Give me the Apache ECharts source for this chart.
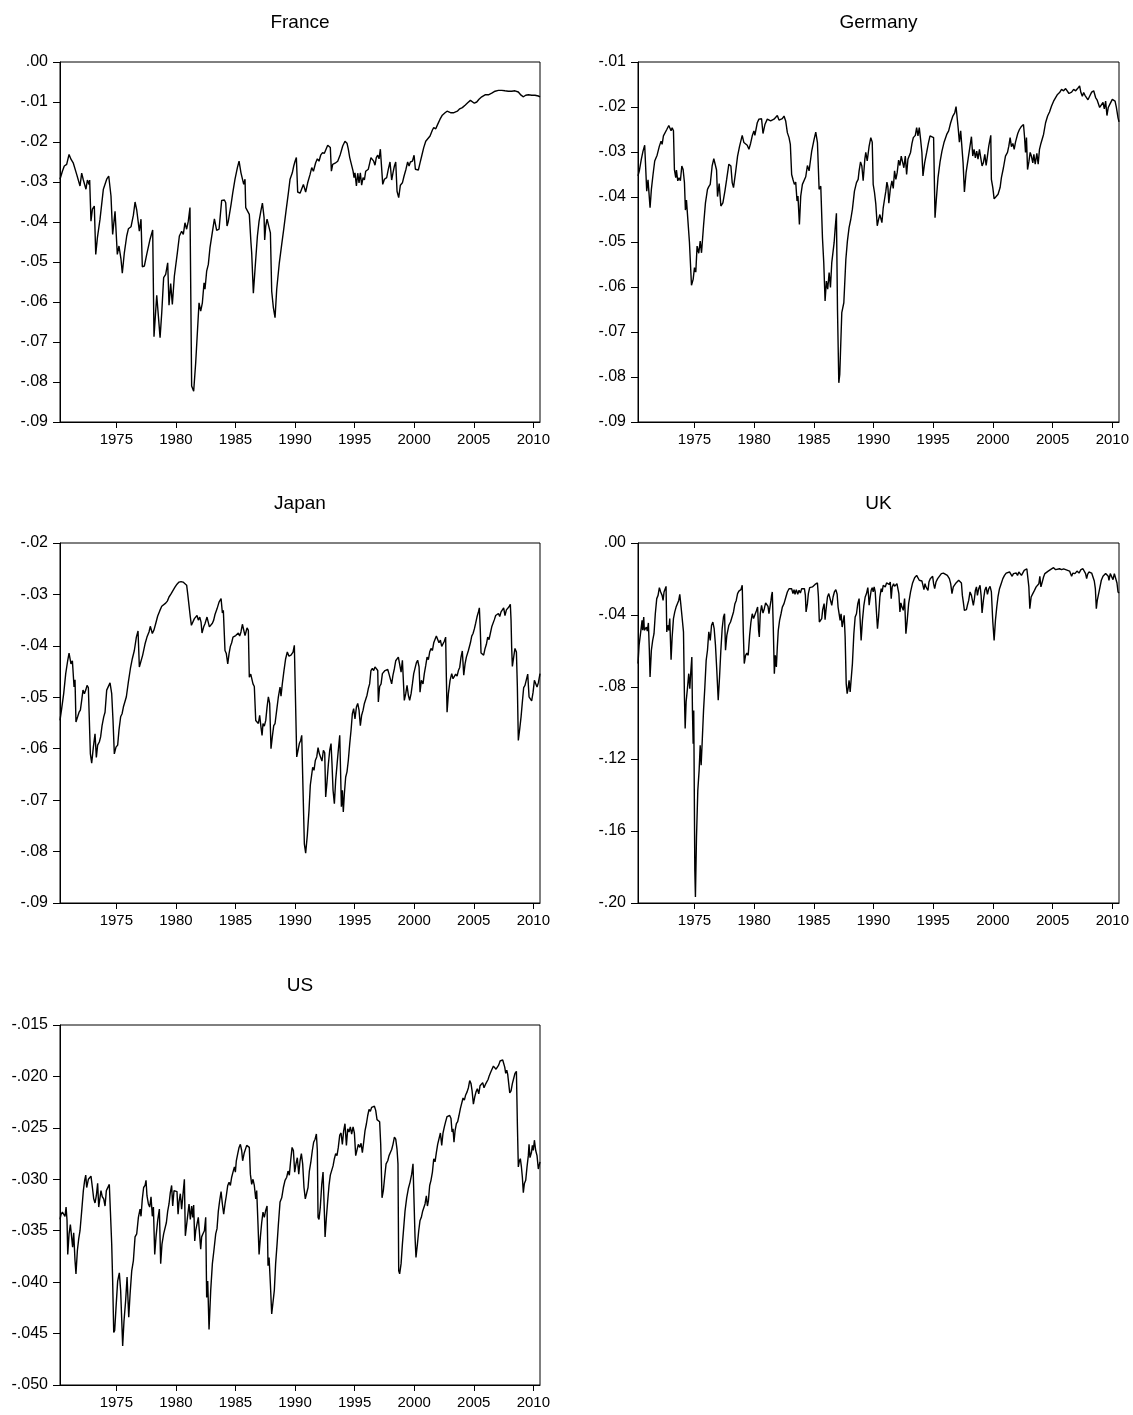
<!DOCTYPE html>
<html>
<head>
<meta charset="utf-8">
<script src="https://cdn.jsdelivr.net/npm/echarts@6/dist/echarts.min.js"></script>
<style>
  html, body { margin: 0; padding: 0; background: #fff; }
  #chart { width: 1133px; height: 1415px; }
</style>
</head>
<body>
<div id="chart"></div>
<script>
// values, [decimal year, value]
const france = [
  [1970.27, -0.0293], [1970.47, -0.0273], [1970.63, -0.0260], [1970.83, -0.0256], [1971.03, -0.0231], [1971.11, -0.0229],
  [1971.19, -0.0243], [1971.31, -0.0248], [1971.39, -0.0253], [1971.53, -0.0252], [1971.67, -0.0281], [1971.81, -0.0277],
  [1971.95, -0.0310], [1972.09, -0.0278], [1972.23, -0.0295], [1972.37, -0.0298], [1972.45, -0.0318], [1972.57, -0.0295],
  [1972.71, -0.0306], [1972.76, -0.0295], [1972.82, -0.0298], [1972.87, -0.0398], [1972.99, -0.0368], [1973.15, -0.0360],
  [1973.27, -0.0481], [1973.41, -0.0439], [1973.63, -0.0393], [1973.91, -0.0318], [1974.19, -0.0293], [1974.36, -0.0285],
  [1974.55, -0.0335], [1974.69, -0.0431], [1974.89, -0.0373], [1975.08, -0.0481], [1975.22, -0.0460], [1975.39, -0.0493],
  [1975.50, -0.0528], [1975.67, -0.0477], [1975.87, -0.0435], [1976.01, -0.0417], [1976.23, -0.0412], [1976.43, -0.0383],
  [1976.57, -0.0350], [1976.71, -0.0370], [1976.85, -0.0368], [1976.93, -0.0423], [1977.07, -0.0393], [1977.18, -0.0512],
  [1977.35, -0.0510], [1977.55, -0.0481], [1977.83, -0.0443], [1978.05, -0.0420], [1978.16, -0.0687], [1978.39, -0.0583],
  [1978.53, -0.0578], [1978.67, -0.0689], [1978.81, -0.0627], [1978.97, -0.0539], [1979.14, -0.0531], [1979.31, -0.0502],
  [1979.42, -0.0608], [1979.56, -0.0554], [1979.70, -0.0606], [1979.87, -0.0535], [1980.12, -0.0477], [1980.29, -0.0435],
  [1980.48, -0.0423], [1980.62, -0.0431], [1980.76, -0.0402], [1980.90, -0.0418], [1981.04, -0.0398], [1981.18, -0.0364],
  [1981.32, -0.0810], [1981.49, -0.0823], [1981.66, -0.0752], [1981.94, -0.0602], [1982.08, -0.0623], [1982.22, -0.0602],
  [1982.36, -0.0552], [1982.44, -0.0568], [1982.58, -0.0523], [1982.72, -0.0506], [1982.86, -0.0464], [1983.00, -0.0468],
  [1983.23, -0.0392], [1983.42, -0.0421], [1983.62, -0.0418], [1983.84, -0.0346], [1984.07, -0.0345], [1984.18, -0.0352],
  [1984.29, -0.0410], [1984.40, -0.0398], [1984.63, -0.0356], [1984.77, -0.0327], [1984.96, -0.0293], [1985.16, -0.0264],
  [1985.30, -0.0248], [1985.46, -0.0277], [1985.58, -0.0273], [1985.69, -0.0306], [1985.80, -0.0293], [1985.86, -0.0364],
  [1986.02, -0.0367], [1986.16, -0.0381], [1986.30, -0.0452], [1986.36, -0.0477], [1986.50, -0.0578], [1986.64, -0.0518],
  [1986.84, -0.0435], [1986.98, -0.0398], [1987.14, -0.0371], [1987.26, -0.0353], [1987.40, -0.0389], [1987.45, -0.0445],
  [1987.54, -0.0410], [1987.65, -0.0393], [1987.81, -0.0393], [1987.93, -0.0427], [1988.04, -0.0573], [1988.18, -0.0614],
  [1988.32, -0.0639], [1988.46, -0.0568], [1988.68, -0.0502], [1988.88, -0.0456], [1989.05, -0.0418], [1989.24, -0.0373],
  [1989.44, -0.0327], [1989.58, -0.0293], [1989.77, -0.0277], [1989.89, -0.0260], [1990.00, -0.0248], [1990.11, -0.0239],
  [1990.22, -0.0325], [1990.42, -0.0328], [1990.56, -0.0323], [1990.70, -0.0306], [1990.89, -0.0325], [1991.06, -0.0302],
  [1991.26, -0.0281], [1991.40, -0.0264], [1991.54, -0.0273], [1991.73, -0.0252], [1991.87, -0.0242], [1992.01, -0.0248],
  [1992.15, -0.0233], [1992.29, -0.0227], [1992.46, -0.0228], [1992.60, -0.0218], [1992.74, -0.0208], [1992.85, -0.0203],
  [1992.96, -0.0214], [1993.05, -0.0273], [1993.16, -0.0256], [1993.36, -0.0253], [1993.58, -0.0248], [1993.80, -0.0231],
  [1994.00, -0.0210], [1994.19, -0.0198], [1994.36, -0.0203], [1994.47, -0.0218], [1994.59, -0.0239], [1994.70, -0.0242],
  [1994.87, -0.0273], [1994.95, -0.0289], [1995.03, -0.0277], [1995.15, -0.0310], [1995.26, -0.0278], [1995.37, -0.0302],
  [1995.48, -0.0277], [1995.59, -0.0308], [1995.71, -0.0289], [1995.82, -0.0295], [1995.93, -0.0273], [1996.04, -0.0277],
  [1996.15, -0.0268], [1996.26, -0.0264], [1996.37, -0.0239], [1996.49, -0.0235], [1996.60, -0.0248], [1996.71, -0.0258],
  [1996.82, -0.0239], [1996.94, -0.0233], [1997.05, -0.0242], [1997.16, -0.0218], [1997.24, -0.0222], [1997.36, -0.0306],
  [1997.50, -0.0293], [1997.69, -0.0289], [1997.83, -0.0268], [1997.97, -0.0250], [1998.11, -0.0295], [1998.22, -0.0277],
  [1998.34, -0.0260], [1998.45, -0.0250], [1998.56, -0.0323], [1998.70, -0.0339], [1998.84, -0.0308], [1999.01, -0.0302],
  [1999.15, -0.0285], [1999.31, -0.0268], [1999.45, -0.0250], [1999.57, -0.0260], [1999.68, -0.0250], [1999.85, -0.0248],
  [1999.99, -0.0233], [2000.10, -0.0268], [2000.24, -0.0264], [2000.35, -0.0270], [2000.49, -0.0252], [2000.63, -0.0235],
  [2000.80, -0.0214], [2000.97, -0.0198], [2001.13, -0.0203], [2001.33, -0.0185], [2001.53, -0.0170], [2001.64, -0.0164],
  [2001.81, -0.0167], [2001.97, -0.0156], [2002.17, -0.0143], [2002.36, -0.0133], [2002.59, -0.0127], [2002.76, -0.0123],
  [2002.92, -0.0118], [2003.09, -0.0127], [2003.29, -0.0127], [2003.43, -0.0123], [2003.62, -0.0123], [2003.82, -0.0117],
  [2004.04, -0.0114], [2004.27, -0.0108], [2004.49, -0.0102], [2004.72, -0.0096], [2004.88, -0.0096], [2005.05, -0.0103],
  [2005.25, -0.0100], [2005.44, -0.0093], [2005.67, -0.0087], [2005.95, -0.0082], [2006.23, -0.0082], [2006.51, -0.0078],
  [2006.79, -0.0073], [2007.07, -0.0071], [2007.35, -0.0071], [2007.62, -0.0072], [2007.90, -0.0073], [2008.18, -0.0073],
  [2008.46, -0.0072], [2008.74, -0.0075], [2008.97, -0.0083], [2009.17, -0.0087], [2009.36, -0.0083], [2009.59, -0.0082],
  [2009.87, -0.0083], [2010.14, -0.0083], [2010.42, -0.0085], [2010.56, -0.0087]
]

const germany = [
  [1970.27, -0.0353], [1970.38, -0.0342], [1970.55, -0.0316], [1970.69, -0.0298], [1970.83, -0.0285], [1970.91, -0.0287],
  [1971.00, -0.0387], [1971.11, -0.0362], [1971.17, -0.0361], [1971.28, -0.0424], [1971.39, -0.0383], [1971.53, -0.0350],
  [1971.67, -0.0320], [1971.87, -0.0307], [1972.06, -0.0287], [1972.20, -0.0276], [1972.29, -0.0283], [1972.40, -0.0264],
  [1972.51, -0.0261], [1972.68, -0.0250], [1972.85, -0.0241], [1972.96, -0.0239], [1973.04, -0.0253], [1973.13, -0.0246],
  [1973.24, -0.0253], [1973.32, -0.0339], [1973.43, -0.0357], [1973.49, -0.0340], [1973.60, -0.0364], [1973.71, -0.0357],
  [1973.82, -0.0364], [1973.94, -0.0331], [1974.05, -0.0339], [1974.16, -0.0368], [1974.24, -0.0429], [1974.33, -0.0407],
  [1974.47, -0.0407], [1974.58, -0.0501], [1974.75, -0.0596], [1974.89, -0.0583], [1975.00, -0.0557], [1975.11, -0.0567],
  [1975.22, -0.0509], [1975.36, -0.0525], [1975.48, -0.0498], [1975.59, -0.0524], [1975.76, -0.0464], [1975.92, -0.0413],
  [1976.09, -0.0383], [1976.20, -0.0377], [1976.32, -0.0372], [1976.48, -0.0331], [1976.62, -0.0315], [1976.76, -0.0315],
  [1976.85, -0.0340], [1976.93, -0.0399], [1977.07, -0.0370], [1977.21, -0.0420], [1977.38, -0.0413], [1977.55, -0.0387],
  [1977.69, -0.0362], [1977.88, -0.0327], [1978.05, -0.0331], [1978.16, -0.0368], [1978.27, -0.0379], [1978.44, -0.0346],
  [1978.61, -0.0309], [1978.78, -0.0287], [1979.00, -0.0263], [1979.14, -0.0279], [1979.28, -0.0283], [1979.42, -0.0285],
  [1979.56, -0.0294], [1979.70, -0.0281], [1979.84, -0.0264], [1979.98, -0.0253], [1980.06, -0.0263], [1980.26, -0.0235],
  [1980.40, -0.0227], [1980.51, -0.0224], [1980.62, -0.0226], [1980.74, -0.0259], [1980.90, -0.0239], [1981.10, -0.0227],
  [1981.24, -0.0224], [1981.38, -0.0231], [1981.52, -0.0227], [1981.66, -0.0227], [1981.80, -0.0224], [1981.94, -0.0219],
  [1982.08, -0.0229], [1982.22, -0.0231], [1982.36, -0.0226], [1982.50, -0.0220], [1982.64, -0.0231], [1982.78, -0.0257],
  [1982.92, -0.0268], [1983.03, -0.0283], [1983.14, -0.0350], [1983.25, -0.0361], [1983.37, -0.0372], [1983.48, -0.0367],
  [1983.59, -0.0409], [1983.67, -0.0398], [1983.79, -0.0461], [1983.90, -0.0398], [1984.04, -0.0372], [1984.18, -0.0368],
  [1984.32, -0.0355], [1984.46, -0.0330], [1984.60, -0.0342], [1984.71, -0.0320], [1984.82, -0.0298], [1985.02, -0.0272],
  [1985.16, -0.0256], [1985.30, -0.0279], [1985.44, -0.0383], [1985.58, -0.0376], [1985.72, -0.0490], [1985.83, -0.0546],
  [1985.94, -0.0631], [1986.05, -0.0587], [1986.16, -0.0605], [1986.28, -0.0568], [1986.39, -0.0601], [1986.50, -0.0546],
  [1986.58, -0.0542], [1986.70, -0.0501], [1986.78, -0.0472], [1986.89, -0.0436], [1986.98, -0.0650], [1987.09, -0.0813],
  [1987.17, -0.0794], [1987.34, -0.0657], [1987.51, -0.0635], [1987.68, -0.0539], [1987.81, -0.0498], [1987.95, -0.0468],
  [1988.09, -0.0450], [1988.23, -0.0427], [1988.40, -0.0387], [1988.57, -0.0368], [1988.71, -0.0361], [1988.79, -0.0342],
  [1988.91, -0.0322], [1989.02, -0.0331], [1989.13, -0.0364], [1989.27, -0.0316], [1989.35, -0.0301], [1989.47, -0.0320],
  [1989.63, -0.0287], [1989.77, -0.0268], [1989.89, -0.0278], [1989.97, -0.0372], [1990.08, -0.0390], [1990.19, -0.0416],
  [1990.31, -0.0464], [1990.42, -0.0450], [1990.53, -0.0439], [1990.61, -0.0435], [1990.70, -0.0457], [1990.81, -0.0424],
  [1990.92, -0.0405], [1991.03, -0.0387], [1991.12, -0.0367], [1991.20, -0.0377], [1991.28, -0.0414], [1991.40, -0.0383],
  [1991.54, -0.0364], [1991.65, -0.0381], [1991.76, -0.0342], [1991.87, -0.0361], [1991.98, -0.0346], [1992.10, -0.0318],
  [1992.21, -0.0330], [1992.32, -0.0309], [1992.43, -0.0310], [1992.54, -0.0335], [1992.66, -0.0309], [1992.77, -0.0350],
  [1992.88, -0.0316], [1992.99, -0.0315], [1993.10, -0.0301], [1993.22, -0.0281], [1993.33, -0.0268], [1993.50, -0.0263],
  [1993.61, -0.0246], [1993.72, -0.0264], [1993.83, -0.0246], [1993.94, -0.0272], [1994.05, -0.0301], [1994.14, -0.0353],
  [1994.28, -0.0324], [1994.45, -0.0301], [1994.59, -0.0281], [1994.73, -0.0264], [1994.89, -0.0261], [1995.03, -0.0268],
  [1995.15, -0.0446], [1995.26, -0.0405], [1995.40, -0.0357], [1995.57, -0.0322], [1995.73, -0.0298], [1995.90, -0.0279],
  [1996.01, -0.0283], [1996.13, -0.0261], [1996.29, -0.0253], [1996.46, -0.0235], [1996.63, -0.0221], [1996.80, -0.0213],
  [1996.91, -0.0199], [1997.02, -0.0198], [1997.10, -0.0250], [1997.19, -0.0278], [1997.30, -0.0253], [1997.41, -0.0253],
  [1997.50, -0.0324], [1997.61, -0.0389], [1997.75, -0.0346], [1997.92, -0.0316], [1998.08, -0.0287], [1998.20, -0.0266],
  [1998.31, -0.0309], [1998.42, -0.0294], [1998.53, -0.0313], [1998.64, -0.0298], [1998.75, -0.0316], [1998.87, -0.0294],
  [1998.98, -0.0313], [1999.09, -0.0331], [1999.20, -0.0324], [1999.32, -0.0305], [1999.43, -0.0330], [1999.54, -0.0309],
  [1999.65, -0.0287], [1999.82, -0.0263], [1999.87, -0.0361], [1999.99, -0.0379], [2000.10, -0.0404], [2000.27, -0.0399],
  [2000.43, -0.0394], [2000.60, -0.0379], [2000.71, -0.0357], [2000.88, -0.0335], [2001.05, -0.0309], [2001.22, -0.0301],
  [2001.33, -0.0287], [2001.44, -0.0268], [2001.55, -0.0288], [2001.67, -0.0281], [2001.78, -0.0294], [2001.89, -0.0278],
  [2002.08, -0.0259], [2002.22, -0.0250], [2002.36, -0.0244], [2002.56, -0.0239], [2002.64, -0.0264], [2002.73, -0.0301],
  [2002.81, -0.0268], [2002.90, -0.0339], [2003.01, -0.0322], [2003.12, -0.0301], [2003.23, -0.0310], [2003.34, -0.0324],
  [2003.43, -0.0305], [2003.54, -0.0327], [2003.68, -0.0303], [2003.79, -0.0327], [2003.90, -0.0294], [2004.02, -0.0281],
  [2004.13, -0.0278], [2004.24, -0.0261], [2004.41, -0.0235], [2004.58, -0.0220], [2004.74, -0.0211], [2004.91, -0.0198],
  [2005.08, -0.0187], [2005.25, -0.0179], [2005.41, -0.0172], [2005.58, -0.0168], [2005.75, -0.0161], [2005.92, -0.0164],
  [2006.09, -0.0159], [2006.25, -0.0161], [2006.37, -0.0170], [2006.48, -0.0174], [2006.59, -0.0167], [2006.76, -0.0161],
  [2006.93, -0.0164], [2007.09, -0.0159], [2007.26, -0.0153], [2007.37, -0.0168], [2007.49, -0.0176], [2007.60, -0.0168],
  [2007.71, -0.0174], [2007.82, -0.0170], [2007.96, -0.0184], [2008.10, -0.0176], [2008.27, -0.0167], [2008.44, -0.0164],
  [2008.60, -0.0179], [2008.72, -0.0184], [2008.83, -0.0183], [2008.94, -0.0201], [2009.08, -0.0198], [2009.22, -0.0190],
  [2009.33, -0.0204], [2009.44, -0.0187], [2009.55, -0.0219], [2009.66, -0.0201], [2009.83, -0.0192], [2010.00, -0.0183],
  [2010.11, -0.0179], [2010.23, -0.0187], [2010.34, -0.0201], [2010.48, -0.0224], [2010.56, -0.0233]
]

const japan = [
  [1970.27, -0.0545], [1970.41, -0.0522], [1970.58, -0.0493], [1970.75, -0.0454], [1970.92, -0.0428], [1971.03, -0.0414],
  [1971.11, -0.0415], [1971.19, -0.0435], [1971.31, -0.0429], [1971.39, -0.0431], [1971.45, -0.0480], [1971.53, -0.0466],
  [1971.61, -0.0548], [1971.75, -0.0538], [1971.87, -0.0529], [1971.98, -0.0525], [1972.09, -0.0506], [1972.20, -0.0486],
  [1972.32, -0.0493], [1972.43, -0.0486], [1972.54, -0.0477], [1972.65, -0.0481], [1972.73, -0.0479], [1972.82, -0.0610],
  [1972.93, -0.0628], [1973.07, -0.0597], [1973.21, -0.0571], [1973.32, -0.0617], [1973.43, -0.0593], [1973.57, -0.0587],
  [1973.68, -0.0577], [1973.80, -0.0555], [1973.94, -0.0538], [1974.05, -0.0529], [1974.19, -0.0486], [1974.33, -0.0483],
  [1974.47, -0.0472], [1974.61, -0.0493], [1974.72, -0.0545], [1974.83, -0.0610], [1974.97, -0.0597], [1975.11, -0.0593],
  [1975.22, -0.0564], [1975.36, -0.0538], [1975.48, -0.0532], [1975.59, -0.0519], [1975.73, -0.0522], [1975.84, -0.0499],
  [1976.01, -0.0470], [1976.18, -0.0444], [1976.34, -0.0425], [1976.51, -0.0409], [1976.68, -0.0383], [1976.82, -0.0371],
  [1976.93, -0.0441], [1977.07, -0.0444], [1977.21, -0.0418], [1977.41, -0.0396], [1977.57, -0.0383], [1977.74, -0.0373],
  [1977.85, -0.0362], [1977.91, -0.0360], [1978.02, -0.0376], [1978.16, -0.0369], [1978.30, -0.0357], [1978.47, -0.0342],
  [1978.64, -0.0332], [1978.81, -0.0323], [1978.97, -0.0320], [1979.14, -0.0317], [1979.28, -0.0313], [1979.42, -0.0305],
  [1979.59, -0.0299], [1979.76, -0.0292], [1979.92, -0.0286], [1980.09, -0.0280], [1980.26, -0.0276], [1980.43, -0.0275],
  [1980.60, -0.0276], [1980.76, -0.0279], [1980.90, -0.0282], [1980.99, -0.0299], [1981.10, -0.0300], [1981.21, -0.0344],
  [1981.30, -0.0360], [1981.44, -0.0357], [1981.55, -0.0347], [1981.66, -0.0349], [1981.77, -0.0341], [1981.88, -0.0350],
  [1982.00, -0.0344], [1982.11, -0.0354], [1982.19, -0.0375], [1982.33, -0.0363], [1982.44, -0.0357], [1982.61, -0.0344],
  [1982.72, -0.0343], [1982.81, -0.0363], [1982.92, -0.0362], [1983.06, -0.0356], [1983.17, -0.0350], [1983.28, -0.0339],
  [1983.45, -0.0328], [1983.62, -0.0315], [1983.79, -0.0308], [1983.90, -0.0336], [1983.98, -0.0331], [1984.12, -0.0409],
  [1984.23, -0.0415], [1984.35, -0.0435], [1984.46, -0.0415], [1984.57, -0.0401], [1984.68, -0.0394], [1984.79, -0.0383],
  [1984.91, -0.0386], [1985.02, -0.0380], [1985.13, -0.0383], [1985.24, -0.0375], [1985.35, -0.0381], [1985.46, -0.0373],
  [1985.58, -0.0358], [1985.69, -0.0356], [1985.80, -0.0380], [1985.88, -0.0373], [1985.97, -0.0365], [1986.08, -0.0370],
  [1986.16, -0.0461], [1986.28, -0.0455], [1986.39, -0.0453], [1986.47, -0.0474], [1986.58, -0.0479], [1986.70, -0.0545],
  [1986.81, -0.0544], [1986.92, -0.0551], [1987.03, -0.0535], [1987.14, -0.0558], [1987.23, -0.0574], [1987.31, -0.0551],
  [1987.42, -0.0556], [1987.54, -0.0545], [1987.65, -0.0519], [1987.76, -0.0499], [1987.87, -0.0512], [1987.98, -0.0600],
  [1988.09, -0.0577], [1988.21, -0.0555], [1988.32, -0.0551], [1988.46, -0.0525], [1988.60, -0.0499], [1988.74, -0.0480],
  [1988.82, -0.0498], [1988.93, -0.0474], [1989.07, -0.0448], [1989.21, -0.0425], [1989.35, -0.0412], [1989.49, -0.0420],
  [1989.66, -0.0418], [1989.83, -0.0412], [1989.94, -0.0399], [1990.03, -0.0402], [1990.14, -0.0616], [1990.25, -0.0603],
  [1990.36, -0.0590], [1990.47, -0.0584], [1990.56, -0.0574], [1990.67, -0.0681], [1990.78, -0.0785], [1990.89, -0.0803],
  [1991.03, -0.0768], [1991.17, -0.0720], [1991.28, -0.0671], [1991.40, -0.0650], [1991.48, -0.0636], [1991.59, -0.0642],
  [1991.70, -0.0623], [1991.82, -0.0616], [1991.93, -0.0598], [1992.04, -0.0610], [1992.15, -0.0608], [1992.26, -0.0624],
  [1992.38, -0.0603], [1992.49, -0.0608], [1992.57, -0.0694], [1992.68, -0.0665], [1992.80, -0.0629], [1992.91, -0.0603],
  [1993.02, -0.0590], [1993.10, -0.0629], [1993.19, -0.0681], [1993.30, -0.0707], [1993.41, -0.0661], [1993.52, -0.0632],
  [1993.63, -0.0603], [1993.75, -0.0574], [1993.83, -0.0654], [1993.89, -0.0713], [1993.97, -0.0681], [1994.05, -0.0723],
  [1994.14, -0.0687], [1994.25, -0.0655], [1994.36, -0.0645], [1994.47, -0.0623], [1994.59, -0.0590], [1994.70, -0.0564],
  [1994.81, -0.0532], [1994.92, -0.0522], [1995.03, -0.0542], [1995.15, -0.0519], [1995.26, -0.0512], [1995.37, -0.0525],
  [1995.48, -0.0555], [1995.59, -0.0535], [1995.71, -0.0525], [1995.82, -0.0512], [1995.93, -0.0509], [1996.04, -0.0496],
  [1996.15, -0.0483], [1996.26, -0.0474], [1996.37, -0.0448], [1996.49, -0.0444], [1996.60, -0.0448], [1996.71, -0.0441],
  [1996.82, -0.0438], [1996.94, -0.0448], [1996.99, -0.0509], [1997.10, -0.0479], [1997.22, -0.0474], [1997.33, -0.0454],
  [1997.44, -0.0451], [1997.55, -0.0448], [1997.66, -0.0451], [1997.78, -0.0446], [1997.89, -0.0455], [1998.00, -0.0454],
  [1998.11, -0.0474], [1998.22, -0.0457], [1998.34, -0.0444], [1998.45, -0.0429], [1998.56, -0.0427], [1998.67, -0.0422],
  [1998.78, -0.0420], [1998.90, -0.0451], [1999.01, -0.0428], [1999.09, -0.0431], [1999.17, -0.0506], [1999.29, -0.0493],
  [1999.40, -0.0477], [1999.51, -0.0496], [1999.62, -0.0506], [1999.74, -0.0493], [1999.85, -0.0474], [1999.96, -0.0454],
  [2000.07, -0.0451], [2000.18, -0.0433], [2000.29, -0.0428], [2000.41, -0.0441], [2000.49, -0.0490], [2000.60, -0.0467],
  [2000.74, -0.0474], [2000.85, -0.0454], [2000.97, -0.0438], [2001.08, -0.0422], [2001.19, -0.0427], [2001.30, -0.0412],
  [2001.41, -0.0405], [2001.53, -0.0409], [2001.64, -0.0394], [2001.75, -0.0392], [2001.86, -0.0381], [2001.97, -0.0383],
  [2002.08, -0.0394], [2002.20, -0.0389], [2002.31, -0.0401], [2002.42, -0.0402], [2002.53, -0.0391], [2002.64, -0.0383],
  [2002.70, -0.0461], [2002.76, -0.0529], [2002.87, -0.0493], [2003.01, -0.0467], [2003.15, -0.0454], [2003.26, -0.0464],
  [2003.37, -0.0461], [2003.48, -0.0455], [2003.60, -0.0459], [2003.71, -0.0448], [2003.82, -0.0442], [2003.93, -0.0422],
  [2004.04, -0.0410], [2004.16, -0.0457], [2004.27, -0.0435], [2004.38, -0.0422], [2004.55, -0.0409], [2004.72, -0.0394],
  [2004.83, -0.0381], [2004.94, -0.0376], [2005.05, -0.0367], [2005.16, -0.0356], [2005.27, -0.0344], [2005.39, -0.0334],
  [2005.47, -0.0326], [2005.55, -0.0370], [2005.61, -0.0414], [2005.72, -0.0415], [2005.83, -0.0418], [2005.95, -0.0405],
  [2006.06, -0.0397], [2006.17, -0.0383], [2006.28, -0.0388], [2006.39, -0.0376], [2006.51, -0.0363], [2006.62, -0.0360],
  [2006.73, -0.0349], [2006.84, -0.0341], [2006.95, -0.0339], [2007.07, -0.0337], [2007.18, -0.0343], [2007.29, -0.0334],
  [2007.40, -0.0331], [2007.51, -0.0326], [2007.62, -0.0341], [2007.74, -0.0330], [2007.85, -0.0332], [2007.96, -0.0324],
  [2008.07, -0.0319], [2008.13, -0.0350], [2008.18, -0.0402], [2008.24, -0.0440], [2008.35, -0.0422], [2008.46, -0.0405],
  [2008.58, -0.0412], [2008.66, -0.0480], [2008.74, -0.0584], [2008.86, -0.0561], [2008.97, -0.0538], [2009.08, -0.0509],
  [2009.19, -0.0481], [2009.30, -0.0477], [2009.42, -0.0474], [2009.53, -0.0455], [2009.64, -0.0499], [2009.75, -0.0496],
  [2009.86, -0.0507], [2009.98, -0.0490], [2010.09, -0.0467], [2010.20, -0.0464], [2010.31, -0.0480], [2010.42, -0.0472],
  [2010.56, -0.0454]
]

const uk = [
  [1970.27, -0.0670], [1970.36, -0.0569], [1970.44, -0.0578], [1970.52, -0.0481], [1970.61, -0.0430], [1970.66, -0.0485],
  [1970.75, -0.0411], [1970.80, -0.0485], [1970.89, -0.0494], [1970.97, -0.0467], [1971.05, -0.0489], [1971.14, -0.0444],
  [1971.22, -0.0596], [1971.28, -0.0744], [1971.39, -0.0596], [1971.50, -0.0541], [1971.61, -0.0504], [1971.72, -0.0393],
  [1971.84, -0.0309], [1971.95, -0.0291], [1972.06, -0.0248], [1972.17, -0.0272], [1972.29, -0.0291], [1972.37, -0.0319],
  [1972.45, -0.0272], [1972.54, -0.0263], [1972.62, -0.0241], [1972.68, -0.0494], [1972.76, -0.0457], [1972.85, -0.0485],
  [1972.93, -0.0420], [1973.04, -0.0648], [1973.13, -0.0522], [1973.24, -0.0420], [1973.35, -0.0383], [1973.46, -0.0356],
  [1973.57, -0.0346], [1973.68, -0.0319], [1973.77, -0.0285], [1973.85, -0.0337], [1973.96, -0.0411], [1974.08, -0.0494],
  [1974.16, -0.0856], [1974.22, -0.1031], [1974.30, -0.0883], [1974.41, -0.0809], [1974.52, -0.0726], [1974.61, -0.0809],
  [1974.69, -0.0717], [1974.78, -0.0633], [1974.83, -0.0930], [1974.89, -0.1115], [1974.94, -0.0930], [1975.03, -0.1819],
  [1975.08, -0.1967], [1975.17, -0.1633], [1975.28, -0.1374], [1975.39, -0.1263], [1975.48, -0.1124], [1975.56, -0.1235],
  [1975.64, -0.1115], [1975.76, -0.0930], [1975.87, -0.0800], [1975.98, -0.0652], [1976.09, -0.0596], [1976.20, -0.0494],
  [1976.32, -0.0541], [1976.43, -0.0457], [1976.54, -0.0439], [1976.65, -0.0476], [1976.76, -0.0569], [1976.87, -0.0707],
  [1976.99, -0.0874], [1977.10, -0.0744], [1977.21, -0.0596], [1977.32, -0.0476], [1977.43, -0.0411], [1977.52, -0.0393],
  [1977.60, -0.0596], [1977.71, -0.0513], [1977.88, -0.0457], [1978.02, -0.0439], [1978.16, -0.0448], [1978.27, -0.0383],
  [1978.39, -0.0337], [1978.50, -0.0319], [1978.61, -0.0281], [1978.72, -0.0267], [1978.89, -0.0259], [1979.00, -0.0235],
  [1979.09, -0.0494], [1979.17, -0.0670], [1979.28, -0.0624], [1979.39, -0.0611], [1979.50, -0.0624], [1979.62, -0.0513],
  [1979.73, -0.0439], [1979.84, -0.0393], [1979.95, -0.0420], [1980.06, -0.0411], [1980.18, -0.0378], [1980.29, -0.0356],
  [1980.37, -0.0485], [1980.43, -0.0522], [1980.51, -0.0393], [1980.62, -0.0346], [1980.74, -0.0389], [1980.85, -0.0365],
  [1980.96, -0.0333], [1981.07, -0.0328], [1981.16, -0.0352], [1981.24, -0.0393], [1981.32, -0.0356], [1981.41, -0.0319],
  [1981.46, -0.0291], [1981.52, -0.0272], [1981.60, -0.0467], [1981.69, -0.0726], [1981.77, -0.0624], [1981.86, -0.0689],
  [1981.94, -0.0578], [1982.02, -0.0485], [1982.13, -0.0430], [1982.25, -0.0393], [1982.36, -0.0356], [1982.50, -0.0337],
  [1982.64, -0.0304], [1982.78, -0.0272], [1982.92, -0.0254], [1983.03, -0.0259], [1983.14, -0.0254], [1983.25, -0.0281],
  [1983.34, -0.0259], [1983.42, -0.0285], [1983.53, -0.0259], [1983.65, -0.0285], [1983.76, -0.0263], [1983.87, -0.0278],
  [1983.98, -0.0254], [1984.09, -0.0263], [1984.21, -0.0254], [1984.29, -0.0291], [1984.35, -0.0383], [1984.46, -0.0337],
  [1984.54, -0.0281], [1984.65, -0.0248], [1984.77, -0.0259], [1984.88, -0.0244], [1984.99, -0.0254], [1985.10, -0.0230],
  [1985.21, -0.0241], [1985.30, -0.0222], [1985.38, -0.0296], [1985.46, -0.0439], [1985.58, -0.0448], [1985.66, -0.0420],
  [1985.74, -0.0370], [1985.86, -0.0337], [1985.94, -0.0426], [1986.02, -0.0370], [1986.14, -0.0300], [1986.25, -0.0281],
  [1986.39, -0.0272], [1986.50, -0.0346], [1986.61, -0.0300], [1986.72, -0.0272], [1986.84, -0.0259], [1986.95, -0.0285],
  [1987.03, -0.0356], [1987.12, -0.0346], [1987.20, -0.0430], [1987.28, -0.0393], [1987.37, -0.0467], [1987.45, -0.0463],
  [1987.54, -0.0402], [1987.62, -0.0522], [1987.71, -0.0781], [1987.79, -0.0837], [1987.87, -0.0809], [1987.95, -0.0763],
  [1988.04, -0.0828], [1988.12, -0.0837], [1988.23, -0.0670], [1988.35, -0.0504], [1988.46, -0.0411], [1988.57, -0.0393],
  [1988.68, -0.0337], [1988.79, -0.0309], [1988.91, -0.0309], [1988.96, -0.0541], [1989.07, -0.0430], [1989.19, -0.0346],
  [1989.30, -0.0300], [1989.41, -0.0281], [1989.52, -0.0248], [1989.58, -0.0291], [1989.63, -0.0346], [1989.72, -0.0300],
  [1989.80, -0.0263], [1989.89, -0.0248], [1989.97, -0.0272], [1990.05, -0.0244], [1990.14, -0.0272], [1990.25, -0.0281],
  [1990.33, -0.0476], [1990.42, -0.0411], [1990.53, -0.0300], [1990.64, -0.0254], [1990.72, -0.0272], [1990.81, -0.0235],
  [1990.89, -0.0226], [1990.98, -0.0244], [1991.09, -0.0222], [1991.20, -0.0226], [1991.31, -0.0230], [1991.40, -0.0217],
  [1991.48, -0.0309], [1991.56, -0.0244], [1991.68, -0.0226], [1991.76, -0.0241], [1991.87, -0.0248], [1991.96, -0.0226],
  [1992.04, -0.0222], [1992.12, -0.0281], [1992.21, -0.0383], [1992.29, -0.0333], [1992.38, -0.0356], [1992.49, -0.0374],
  [1992.60, -0.0309], [1992.71, -0.0504], [1992.82, -0.0430], [1992.94, -0.0337], [1993.10, -0.0272], [1993.27, -0.0222],
  [1993.44, -0.0193], [1993.61, -0.0180], [1993.72, -0.0174], [1993.83, -0.0207], [1993.94, -0.0204], [1994.05, -0.0211],
  [1994.14, -0.0235], [1994.22, -0.0259], [1994.31, -0.0226], [1994.39, -0.0244], [1994.47, -0.0241], [1994.56, -0.0263],
  [1994.64, -0.0217], [1994.75, -0.0198], [1994.87, -0.0189], [1994.95, -0.0185], [1995.03, -0.0226], [1995.12, -0.0254],
  [1995.23, -0.0217], [1995.37, -0.0198], [1995.51, -0.0185], [1995.68, -0.0170], [1995.85, -0.0167], [1996.01, -0.0170],
  [1996.18, -0.0180], [1996.35, -0.0198], [1996.46, -0.0226], [1996.57, -0.0281], [1996.68, -0.0244], [1996.80, -0.0235],
  [1996.91, -0.0222], [1997.02, -0.0217], [1997.13, -0.0207], [1997.24, -0.0217], [1997.36, -0.0222], [1997.44, -0.0291],
  [1997.52, -0.0328], [1997.61, -0.0374], [1997.69, -0.0365], [1997.78, -0.0370], [1997.86, -0.0346], [1997.97, -0.0319],
  [1998.08, -0.0272], [1998.20, -0.0291], [1998.28, -0.0281], [1998.36, -0.0346], [1998.45, -0.0309], [1998.53, -0.0263],
  [1998.62, -0.0244], [1998.70, -0.0291], [1998.81, -0.0254], [1998.92, -0.0235], [1999.01, -0.0291], [1999.09, -0.0389],
  [1999.20, -0.0319], [1999.32, -0.0263], [1999.43, -0.0244], [1999.54, -0.0285], [1999.65, -0.0254], [1999.76, -0.0241],
  [1999.87, -0.0272], [1999.99, -0.0439], [2000.10, -0.0541], [2000.21, -0.0430], [2000.32, -0.0356], [2000.43, -0.0296],
  [2000.55, -0.0254], [2000.69, -0.0226], [2000.83, -0.0198], [2000.97, -0.0180], [2001.11, -0.0167], [2001.25, -0.0161],
  [2001.39, -0.0161], [2001.53, -0.0170], [2001.61, -0.0185], [2001.72, -0.0170], [2001.83, -0.0180], [2001.95, -0.0167],
  [2002.06, -0.0180], [2002.17, -0.0161], [2002.28, -0.0170], [2002.39, -0.0180], [2002.50, -0.0170], [2002.62, -0.0152],
  [2002.73, -0.0148], [2002.84, -0.0143], [2002.92, -0.0152], [2003.01, -0.0244], [2003.09, -0.0365], [2003.20, -0.0300],
  [2003.34, -0.0281], [2003.48, -0.0263], [2003.62, -0.0244], [2003.74, -0.0248], [2003.85, -0.0226], [2003.93, -0.0185],
  [2004.02, -0.0244], [2004.13, -0.0217], [2004.24, -0.0189], [2004.35, -0.0170], [2004.46, -0.0161], [2004.63, -0.0156],
  [2004.74, -0.0152], [2004.91, -0.0144], [2005.08, -0.0137], [2005.25, -0.0148], [2005.41, -0.0152], [2005.58, -0.0143],
  [2005.75, -0.0148], [2005.92, -0.0144], [2006.09, -0.0148], [2006.25, -0.0143], [2006.42, -0.0156], [2006.53, -0.0152],
  [2006.59, -0.0185], [2006.70, -0.0167], [2006.87, -0.0170], [2007.04, -0.0156], [2007.21, -0.0167], [2007.37, -0.0148],
  [2007.54, -0.0143], [2007.65, -0.0133], [2007.76, -0.0170], [2007.85, -0.0198], [2007.93, -0.0174], [2008.04, -0.0161],
  [2008.16, -0.0170], [2008.27, -0.0167], [2008.38, -0.0189], [2008.49, -0.0211], [2008.58, -0.0254], [2008.66, -0.0365],
  [2008.74, -0.0319], [2008.83, -0.0322], [2008.94, -0.0254], [2009.08, -0.0207], [2009.22, -0.0185], [2009.33, -0.0174],
  [2009.44, -0.0170], [2009.55, -0.0180], [2009.66, -0.0185], [2009.72, -0.0207], [2009.83, -0.0170], [2009.94, -0.0167],
  [2010.06, -0.0204], [2010.17, -0.0170], [2010.28, -0.0161], [2010.39, -0.0222], [2010.48, -0.0272], [2010.56, -0.0278]
]

const us = [
  [1970.27, -0.0339], [1970.36, -0.0334], [1970.47, -0.0332], [1970.58, -0.0331], [1970.69, -0.0336], [1970.78, -0.0327],
  [1970.86, -0.0340], [1970.92, -0.0373], [1971.03, -0.0353], [1971.14, -0.0344], [1971.25, -0.0345], [1971.33, -0.0366],
  [1971.42, -0.0352], [1971.53, -0.0379], [1971.61, -0.0392], [1971.73, -0.0369], [1971.84, -0.0358], [1971.95, -0.0350],
  [1972.09, -0.0331], [1972.23, -0.0311], [1972.34, -0.0301], [1972.43, -0.0296], [1972.51, -0.0308], [1972.65, -0.0300],
  [1972.76, -0.0301], [1972.87, -0.0297], [1972.99, -0.0308], [1973.10, -0.0319], [1973.21, -0.0323], [1973.32, -0.0316],
  [1973.43, -0.0304], [1973.52, -0.0327], [1973.60, -0.0320], [1973.71, -0.0311], [1973.82, -0.0317], [1973.94, -0.0319],
  [1974.05, -0.0326], [1974.16, -0.0311], [1974.27, -0.0311], [1974.41, -0.0305], [1974.50, -0.0331], [1974.61, -0.0363],
  [1974.69, -0.0399], [1974.78, -0.0449], [1974.86, -0.0447], [1974.97, -0.0425], [1975.11, -0.0399], [1975.25, -0.0391],
  [1975.36, -0.0408], [1975.45, -0.0436], [1975.53, -0.0462], [1975.64, -0.0438], [1975.78, -0.0418], [1975.90, -0.0395],
  [1976.04, -0.0434], [1976.15, -0.0412], [1976.29, -0.0389], [1976.43, -0.0379], [1976.57, -0.0356], [1976.71, -0.0353],
  [1976.85, -0.0337], [1976.99, -0.0329], [1977.07, -0.0336], [1977.18, -0.0319], [1977.29, -0.0308], [1977.41, -0.0306],
  [1977.49, -0.0301], [1977.57, -0.0316], [1977.69, -0.0324], [1977.80, -0.0327], [1977.91, -0.0317], [1978.02, -0.0336],
  [1978.11, -0.0327], [1978.22, -0.0373], [1978.33, -0.0356], [1978.47, -0.0340], [1978.61, -0.0329], [1978.72, -0.0382],
  [1978.83, -0.0363], [1978.97, -0.0353], [1979.09, -0.0354], [1979.20, -0.0342], [1979.31, -0.0331], [1979.42, -0.0324],
  [1979.53, -0.0313], [1979.64, -0.0306], [1979.73, -0.0326], [1979.84, -0.0311], [1979.98, -0.0310], [1980.09, -0.0312],
  [1980.18, -0.0334], [1980.26, -0.0322], [1980.37, -0.0314], [1980.48, -0.0329], [1980.60, -0.0314], [1980.71, -0.0300],
  [1980.79, -0.0355], [1980.88, -0.0346], [1980.99, -0.0347], [1981.10, -0.0324], [1981.21, -0.0339], [1981.32, -0.0326],
  [1981.41, -0.0337], [1981.49, -0.0325], [1981.58, -0.0360], [1981.66, -0.0350], [1981.77, -0.0350], [1981.88, -0.0337],
  [1982.00, -0.0337], [1982.08, -0.0368], [1982.16, -0.0356], [1982.27, -0.0353], [1982.39, -0.0350], [1982.50, -0.0337],
  [1982.58, -0.0415], [1982.67, -0.0399], [1982.78, -0.0446], [1982.92, -0.0408], [1983.06, -0.0382], [1983.20, -0.0368],
  [1983.34, -0.0353], [1983.45, -0.0348], [1983.56, -0.0331], [1983.67, -0.0321], [1983.79, -0.0312], [1983.90, -0.0324],
  [1984.01, -0.0334], [1984.12, -0.0324], [1984.23, -0.0316], [1984.35, -0.0306], [1984.46, -0.0303], [1984.57, -0.0306],
  [1984.68, -0.0298], [1984.79, -0.0293], [1984.91, -0.0288], [1984.99, -0.0293], [1985.07, -0.0282], [1985.19, -0.0275],
  [1985.30, -0.0269], [1985.41, -0.0266], [1985.52, -0.0272], [1985.60, -0.0282], [1985.72, -0.0275], [1985.83, -0.0274],
  [1985.94, -0.0267], [1986.05, -0.0267], [1986.16, -0.0269], [1986.25, -0.0295], [1986.36, -0.0305], [1986.47, -0.0300],
  [1986.58, -0.0306], [1986.70, -0.0319], [1986.78, -0.0311], [1986.89, -0.0344], [1986.98, -0.0373], [1987.09, -0.0356],
  [1987.20, -0.0342], [1987.31, -0.0332], [1987.42, -0.0337], [1987.54, -0.0330], [1987.65, -0.0326], [1987.73, -0.0384],
  [1987.82, -0.0376], [1987.93, -0.0402], [1988.04, -0.0431], [1988.15, -0.0430], [1988.26, -0.0408], [1988.37, -0.0382],
  [1988.49, -0.0363], [1988.60, -0.0344], [1988.74, -0.0322], [1988.88, -0.0318], [1989.02, -0.0308], [1989.16, -0.0301],
  [1989.30, -0.0298], [1989.41, -0.0292], [1989.52, -0.0296], [1989.63, -0.0282], [1989.75, -0.0269], [1989.86, -0.0272],
  [1989.97, -0.0293], [1990.08, -0.0285], [1990.19, -0.0279], [1990.31, -0.0295], [1990.42, -0.0282], [1990.53, -0.0275],
  [1990.64, -0.0285], [1990.75, -0.0308], [1990.86, -0.0319], [1990.98, -0.0319], [1991.09, -0.0308], [1991.20, -0.0292],
  [1991.34, -0.0282], [1991.45, -0.0272], [1991.56, -0.0264], [1991.68, -0.0261], [1991.79, -0.0256], [1991.87, -0.0272],
  [1991.93, -0.0337], [1992.01, -0.0339], [1992.12, -0.0327], [1992.24, -0.0305], [1992.35, -0.0293], [1992.46, -0.0332],
  [1992.52, -0.0356], [1992.63, -0.0337], [1992.74, -0.0321], [1992.85, -0.0306], [1992.96, -0.0296], [1993.08, -0.0297],
  [1993.19, -0.0287], [1993.30, -0.0280], [1993.41, -0.0275], [1993.52, -0.0277], [1993.63, -0.0269], [1993.75, -0.0257],
  [1993.86, -0.0255], [1993.97, -0.0266], [1994.08, -0.0253], [1994.19, -0.0246], [1994.31, -0.0267], [1994.42, -0.0251],
  [1994.53, -0.0254], [1994.64, -0.0249], [1994.75, -0.0256], [1994.87, -0.0249], [1994.98, -0.0255], [1995.09, -0.0277],
  [1995.20, -0.0276], [1995.31, -0.0266], [1995.43, -0.0269], [1995.54, -0.0265], [1995.65, -0.0274], [1995.76, -0.0264],
  [1995.87, -0.0253], [1995.99, -0.0246], [1996.10, -0.0238], [1996.21, -0.0232], [1996.32, -0.0234], [1996.43, -0.0230],
  [1996.55, -0.0230], [1996.66, -0.0229], [1996.77, -0.0233], [1996.88, -0.0242], [1996.99, -0.0243], [1997.10, -0.0244],
  [1997.19, -0.0266], [1997.30, -0.0318], [1997.41, -0.0311], [1997.52, -0.0298], [1997.64, -0.0285], [1997.78, -0.0282],
  [1997.89, -0.0277], [1998.00, -0.0274], [1998.11, -0.0271], [1998.22, -0.0266], [1998.34, -0.0259], [1998.45, -0.0261],
  [1998.56, -0.0271], [1998.64, -0.0285], [1998.70, -0.0389], [1998.78, -0.0392], [1998.90, -0.0382], [1999.01, -0.0363],
  [1999.12, -0.0347], [1999.23, -0.0331], [1999.37, -0.0318], [1999.51, -0.0309], [1999.65, -0.0303], [1999.79, -0.0295],
  [1999.90, -0.0285], [1999.99, -0.0284], [2000.07, -0.0356], [2000.15, -0.0376], [2000.27, -0.0363], [2000.38, -0.0350],
  [2000.49, -0.0340], [2000.60, -0.0337], [2000.71, -0.0331], [2000.80, -0.0330], [2000.91, -0.0324], [2001.02, -0.0316],
  [2001.11, -0.0326], [2001.19, -0.0321], [2001.30, -0.0306], [2001.41, -0.0301], [2001.53, -0.0293], [2001.64, -0.0280],
  [2001.75, -0.0283], [2001.86, -0.0274], [2001.97, -0.0266], [2002.09, -0.0267], [2002.20, -0.0255], [2002.31, -0.0267],
  [2002.42, -0.0255], [2002.53, -0.0249], [2002.64, -0.0244], [2002.76, -0.0239], [2002.87, -0.0239], [2002.98, -0.0238],
  [2003.09, -0.0241], [2003.18, -0.0254], [2003.26, -0.0251], [2003.34, -0.0264], [2003.43, -0.0253], [2003.54, -0.0246],
  [2003.65, -0.0244], [2003.76, -0.0238], [2003.88, -0.0231], [2003.99, -0.0230], [2004.10, -0.0221], [2004.21, -0.0223],
  [2004.32, -0.0218], [2004.44, -0.0215], [2004.55, -0.0211], [2004.66, -0.0204], [2004.77, -0.0207], [2004.86, -0.0214],
  [2004.97, -0.0227], [2005.08, -0.0220], [2005.19, -0.0215], [2005.30, -0.0212], [2005.42, -0.0217], [2005.53, -0.0209],
  [2005.64, -0.0210], [2005.75, -0.0206], [2005.86, -0.0211], [2005.97, -0.0208], [2006.09, -0.0207], [2006.20, -0.0203],
  [2006.31, -0.0199], [2006.42, -0.0196], [2006.53, -0.0193], [2006.65, -0.0190], [2006.76, -0.0190], [2006.87, -0.0193],
  [2006.98, -0.0191], [2007.09, -0.0189], [2007.21, -0.0185], [2007.32, -0.0185], [2007.43, -0.0184], [2007.51, -0.0184],
  [2007.60, -0.0191], [2007.68, -0.0197], [2007.77, -0.0194], [2007.85, -0.0198], [2007.93, -0.0199], [2008.02, -0.0216],
  [2008.13, -0.0214], [2008.24, -0.0207], [2008.35, -0.0202], [2008.46, -0.0197], [2008.58, -0.0195], [2008.66, -0.0246],
  [2008.74, -0.0288], [2008.83, -0.0282], [2008.91, -0.0280], [2009.00, -0.0288], [2009.08, -0.0298], [2009.16, -0.0313],
  [2009.25, -0.0304], [2009.36, -0.0301], [2009.47, -0.0288], [2009.58, -0.0277], [2009.64, -0.0266], [2009.72, -0.0279],
  [2009.84, -0.0274], [2009.92, -0.0267], [2010.00, -0.0272], [2010.09, -0.0262], [2010.20, -0.0272], [2010.31, -0.0277],
  [2010.42, -0.0290], [2010.56, -0.0283]
]

const yearTicks = [1975, 1980, 1985, 1990, 1995, 2000, 2005, 2010]

const panels = [
  { name: 'France', data: france, left: 60, top: 62, width: 480, height: 360, min: -0.09, max: 0, interval: 0.01, digits: 2 },
  { name: 'Germany', data: germany, left: 638, top: 62, width: 481, height: 360, min: -0.09, max: -0.01, interval: 0.01, digits: 2 },
  { name: 'Japan', data: japan, left: 60, top: 543, width: 480, height: 360, min: -0.09, max: -0.02, interval: 0.01, digits: 2 },
  { name: 'UK', data: uk, left: 638, top: 543, width: 481, height: 360, min: -0.2, max: 0, interval: 0.04, digits: 2 },
  { name: 'US', data: us, left: 60, top: 1025, width: 480, height: 360, min: -0.05, max: -0.015, interval: 0.005, digits: 3 }
]

const font = "'Liberation Sans', Arial, Helvetica, sans-serif"

// eviews style labels: .00, -.01, -.015
function tickFormat(digits) {
  return function(v) {
    const s = Math.abs(v) < 1e-9 ? (0).toFixed(digits) : v.toFixed(digits)
    return s.replace(/^(-?)0\./, '$1.')
  }
}

const chart = echarts.init(document.getElementById('chart'), null, { renderer: 'canvas' })

const option = {
  backgroundColor: '#fff',
  animation: false,
  grid: panels.map(p => ({
    left: p.left,
    top: p.top,
    width: p.width,
    height: p.height,
    show: true,
    borderColor: '#000',
    borderWidth: 1,
    backgroundColor: 'transparent',
    containLabel: false
  })),
  xAxis: panels.map((p, i) => ({
    type: 'value',
    gridIndex: i,
    min: 1970.27,
    max: 2010.56,
    axisLine: { show: true, onZero: false, lineStyle: { color: '#000', width: 1 } },
    axisTick: { show: true, inside: false, length: 6, customValues: yearTicks, lineStyle: { color: '#000' } },
    axisLabel: {
      customValues: yearTicks,
      margin: 10,
      color: '#000',
      fontSize: 15,
      fontFamily: font,
      formatter: v => String(Math.round(v))
    },
    splitLine: { show: false }
  })),
  yAxis: panels.map((p, i) => ({
    type: 'value',
    gridIndex: i,
    min: p.min,
    max: p.max,
    interval: p.interval,
    axisLine: { show: true, onZero: false, lineStyle: { color: '#000', width: 1 } },
    axisTick: { show: true, inside: false, length: 7, lineStyle: { color: '#000' } },
    axisLabel: {
      margin: 12,
      color: '#000',
      fontSize: 16,
      fontFamily: font,
      formatter: tickFormat(p.digits)
    },
    splitLine: { show: false }
  })),
  series: panels.map((p, i) => ({
    name: p.name,
    type: 'line',
    xAxisIndex: i,
    yAxisIndex: i,
    data: p.data,
    showSymbol: false,
    symbol: 'none',
    smooth: false,
    lineStyle: { color: '#000', width: 1.4 }
  })),
  graphic: panels.map(p => ({
    type: 'text',
    x: p.left + p.width / 2,
    y: p.top - 39,
    style: {
      text: p.name,
      fill: '#000',
      fontSize: 19,
      fontFamily: font,
      align: 'center',
      verticalAlign: 'middle'
    }
  }))
}

chart.setOption(option)
</script>
</body>
</html>
